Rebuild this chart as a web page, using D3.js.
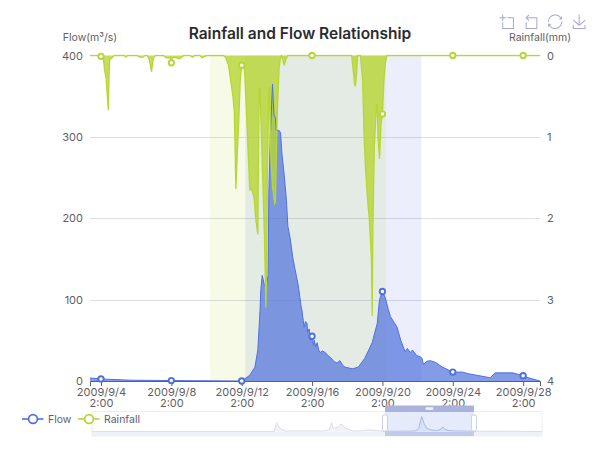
<!DOCTYPE html>
<html>
<head>
<meta charset="utf-8">
<script src="https://cdn.jsdelivr.net/npm/d3@7/dist/d3.min.js"></script>
<style>
html,body{margin:0;padding:0;background:#fff}
svg{display:block}
text{font-family:Inter,"Noto Sans",sans-serif}
</style>
</head>
<body>
<svg id="chart" width="600" height="450"></svg>
<script>
// Hours counted from 2009/9/3 11:00, the left edge of the zoomed window.
const flowHours = [0,15,55,111,207,218,225,229,232,233,235,238,240,243,244,246,249,250,251,253,254,255,258,260,262,265,268,270,273,277,284,288,289,291,292,294,296,297,299,301,303,305,306,308,310,312,314,317,321,325,328,333,337,341,345,348,358,366,375,385,392,395,399,403,407,410,415,419,424,430,433,437,440,446,450,453,455,459,464,471,481,495,503,508,516,546,553,577,591,598,614];
const flowValues = [3.7,2.5,1,0.5,0,7,17,38,87,111,130,118,115,130,230,300,365,345,327,323,308,308,308,305,278,253,222,190,176,150,118,92,88,74,66,73,71,60,64,50,55,44,50,42,47,38,35,37,35,31,29,24,22,25,19,17,15,17,28,47,71,100,110,102,88,79,72,66,50,36,40,35,38,31,30,28,20,24,25,23,17,11,11,11,9,4,10,10,6.5,4,0];

const rainHours = [0,11,15,18,20,22,25,26,27,29,31,33,47,49,51,64,68,72,75,78,81,84,86,88,90,100,104,108,110,111,112,115,118,122,125,128,136,140,143,150,153,156,160,182,185,189,195,197,199,201,203,205,207,209,211,214,218,221,224,226,229,230,231,232,234,236,238,240,241,242,243,244,245,246,247,249,252,253,254,255,256,258,260,261,263,265,267,270,303,357,359,361,362,364,365,367,369,372,374,376,379,381,384,385,386,388,391,392,393,395,397,399,401,403,405,495,591,614];
const rainValues = [0,0,0.01,0.02,0.18,0.28,0.67,0.24,0.03,0.04,0.02,0,0,0.02,0,0,0.02,0.02,0,0,0.05,0.2,0.05,0.01,0,0,0.03,0.03,0.03,0.09,0.03,0.02,0.03,0.04,0.02,0,0,0.02,0,0,0.03,0.01,0,0,0.02,0.12,0.5,0.7,1.64,1.2,0.8,0.3,0.12,0.1,0.2,0.8,1.65,1.65,1.75,2,2.2,1.1,0.4,0.4,1,1.6,2.2,3.1,2.6,1.4,0.9,0.4,0.38,1,1.3,1.6,1.82,1.8,1.35,0.9,0.6,0.15,0.02,0,0.05,0.12,0.05,0,0,0,0.17,0.35,0.38,0.2,0,0,0,0.3,1,1.4,1.8,2,2.5,3.2,2.1,1.1,0.6,0.6,1,1.27,0.85,0.72,0.3,0.1,0,0,0,0];

// Hours across the whole record, for the slider's overview line.
const overviewHours = [0,1255,1260,1272,1300,1330,1600,1633,1652,1661,1674,1695,1716,1743,1764,1798,1860,1915,1970,2005,2019,2220,2239,2253,2263,2272,2288,2308,2329,2377,2405,2416,2432,2453,2501,2632,2673,2811,3101];
const overviewFlow = [3,3,60,217,60,15,15,40,217,90,85,100,185,90,60,10,20,40,20,5,3,8,30,100,250,365,200,80,45,15,60,110,60,25,12,3,5,8,0];

const tickHours = [15,111,207,303,399,495,591];
const tickDates = ["2009/9/4","2009/9/8","2009/9/12","2009/9/16","2009/9/20","2009/9/24","2009/9/28"];
const tickTimes = ["2:00","2:00","2:00","2:00","2:00","2:00","2:00"];
const flowTicks = [0,100,200,300,400];
const rainTicks = [0,1,2,3,4];
const rainBand = [164,404];
const flowBand = [212,452];
const selectedHours = [2019,2632];

const flowColor = "#5070dd";
const rainColor = "#b6d634";
const labelColor = "#5f6066";

const svg = d3.select("#chart");
const plotLeft = 90, plotRight = 540, plotTop = 55.5, plotBottom = 381;
const x = d3.scaleLinear().domain([0,614]).range([plotLeft,plotRight]);
const yFlow = d3.scaleLinear().domain([0,400]).range([plotBottom,plotTop]);
const yRain = d3.scaleLinear().domain([0,4]).range([plotTop,plotBottom]);

svg.append("defs").append("clipPath").attr("id","plot")
  .append("rect").attr("x",plotLeft).attr("y",plotTop-1).attr("width",plotRight-plotLeft).attr("height",plotBottom-plotTop+1.5);

// Horizontal grid; the 400 line sits under the rainfall baseline
svg.append("g").selectAll("line").data(flowTicks.filter(t=>t>0&&t<400)).join("line")
  .attr("x1",plotLeft).attr("x2",plotRight)
  .attr("y1",d=>Math.round(yFlow(d))+0.5).attr("y2",d=>Math.round(yFlow(d))+0.5)
  .attr("stroke","#dbdee4");

// Highlighted periods for each series
svg.append("rect").attr("x",x(rainBand[0])).attr("y",plotTop).attr("width",x(rainBand[1])-x(rainBand[0])).attr("height",plotBottom-plotTop)
  .attr("fill",rainColor).attr("fill-opacity",0.12);
svg.append("rect").attr("x",x(flowBand[0])).attr("y",plotTop).attr("width",x(flowBand[1])-x(flowBand[0])).attr("height",plotBottom-plotTop)
  .attr("fill",flowColor).attr("fill-opacity",0.11);

// Left and right value axes
const leftAxis = svg.append("g").attr("transform",`translate(${plotLeft},0)`)
  .call(d3.axisLeft(yFlow).tickValues(flowTicks).tickSize(0).tickPadding(7));
const rightAxis = svg.append("g").attr("transform",`translate(${plotRight},0)`)
  .call(d3.axisRight(yRain).tickValues(rainTicks).tickFormat(d3.format("d")).tickSize(0).tickPadding(7));
[leftAxis,rightAxis].forEach(a=>{
  a.select(".domain").remove();
  a.selectAll("text").attr("fill",labelColor).attr("font-size",11).attr("font-family",'Inter,"Noto Sans",sans-serif');
});

// Time axis
const bottomAxis = svg.append("g").attr("transform",`translate(0,${plotBottom})`)
  .call(d3.axisBottom(x).tickValues(tickHours).tickSize(5).tickPadding(4).tickFormat(""));
bottomAxis.selectAll("path,line").attr("stroke",labelColor);
bottomAxis.selectAll(".tick text").each(function(d,i){
  const t = d3.select(this).attr("fill",labelColor).attr("font-size",11).attr("font-family",'Inter,"Noto Sans",sans-serif');
  t.append("tspan").attr("x",0).attr("dy","0.55em").text(tickDates[i]);
  t.append("tspan").attr("x",0).attr("dy","1.0em").text(tickTimes[i]);
});

// Flow and rainfall layers: rainfall fill rests over the flow fill, both outlines stay visible
const flowPts = flowHours.map((h,i)=>[h,flowValues[i]]);
const rainPts = rainHours.map((h,i)=>[h,rainValues[i]]);
const plotLayer = svg.append("g").attr("clip-path","url(#plot)");
function fillArea(pts,yScale,base,color,alpha){
  plotLayer.append("path").datum(pts)
    .attr("d",d3.area().x(d=>x(d[0])).y0(base).y1(d=>yScale(d[1])))
    .attr("fill",color).attr("fill-opacity",alpha);
}
function strokeLine(pts,yScale,color,width){
  plotLayer.append("path").datum(pts)
    .attr("d",d3.line().x(d=>x(d[0])).y(d=>yScale(d[1])))
    .attr("fill","none").attr("stroke",color).attr("stroke-width",width);
}
function dots(pts,yScale,color){
  svg.append("g").selectAll("circle").data(pts.filter(d=>tickHours.includes(d[0]))).join("circle")
    .attr("cx",d=>x(d[0])).attr("cy",d=>yScale(d[1])).attr("r",2.7)
    .attr("fill","#fff").attr("stroke",color).attr("stroke-width",1.9);
}
fillArea(flowPts,yFlow,plotBottom,flowColor,0.7);
fillArea(rainPts,yRain,plotTop,rainColor,0.8);
strokeLine(flowPts,yFlow,flowColor,1);
strokeLine(rainPts,yRain,rainColor,1.3);
dots(flowPts,yFlow,flowColor);
dots(rainPts,yRain,rainColor);

// Title and axis names
svg.append("text").attr("x",300).attr("y",38.5).attr("text-anchor","middle")
  .attr("font-size",15.5).attr("font-weight",600).attr("fill","#2b2c30").text("Rainfall and Flow Relationship");
svg.append("text").attr("x",plotLeft).attr("y",41).attr("text-anchor","middle")
  .attr("font-size",10.5).attr("fill",labelColor).text("Flow(m³/s)");
svg.append("text").attr("x",plotRight).attr("y",41).attr("text-anchor","middle")
  .attr("font-size",10.5).attr("fill",labelColor).text("Rainfall(mm)");

// Toolbox glyphs
const toolIcons = [
  "M0,13.5h26.9 M13.5,26.9V0 M32.1,13.5H58V58H13.5 V32.1",
  "M22,1.4L9.9,13.5l12.3,12.3 M10.3,13.5H54.9v44.6 H10.3v-26",
  "M3.8,33.4 M47,18.9h9.8V8.7 M56.3,20.1 C52.1,9,40.5,0.6,26.8,2.1C12.6,3.7,1.6,16.2,2.1,30.6 M13,41.1H3.1v10.2 M3.7,39.9c4.2,11.1,15.8,19.5,29.5,18 c14.2-1.6,25.2-14.1,24.7-28.5",
  "M4.7,22.9L29.3,45.5L54.7,23.4M4.6,43.6L4.6,58L53.8,58L53.8,43.6M29.2,45.1L29.2,0"
];
const toolGroup = svg.append("g");
toolIcons.forEach((d,i)=>{
  toolGroup.append("path").attr("d",d)
    .attr("transform",`translate(${499.5+i*24.2},14.5) scale(0.24)`)
    .attr("fill","none").attr("stroke","#a5a8d3").attr("stroke-width",4.2);
});

// Range slider with overview of the whole record
const sliderLeft = 92, sliderRight = 542, sliderTop = 411.5, sliderBase = 431.5, sliderBottom = 436;
const ox = d3.scaleLinear().domain([0,3101]).range([sliderLeft,sliderRight]);
const oy = d3.scaleLinear().domain([0,365]).range([sliderBase,416.7]);
const slider = svg.append("g");
slider.append("rect").attr("x",sliderLeft).attr("y",sliderTop).attr("width",sliderRight-sliderLeft).attr("height",sliderBottom-sliderTop)
  .attr("fill","#fff").attr("stroke","#eceef3");
slider.append("rect").attr("x",sliderLeft).attr("y",sliderBase).attr("width",sliderRight-sliderLeft).attr("height",sliderBottom-sliderBase)
  .attr("fill","#f0f1f6");
const selX0 = ox(selectedHours[0]), selX1 = ox(selectedHours[1]);
slider.append("rect").attr("x",selX0).attr("y",sliderTop).attr("width",selX1-selX0).attr("height",sliderBase-sliderTop).attr("fill","#e5ebfb");
slider.append("rect").attr("x",selX0).attr("y",sliderBase).attr("width",selX1-selX0).attr("height",sliderBottom-sliderBase).attr("fill","#c0cbec");
const overviewPts = overviewHours.map((h,i)=>[h,overviewFlow[i]]);
svg.select("defs").append("clipPath").attr("id","selected").append("rect").attr("x",selX0).attr("y",sliderTop).attr("width",selX1-selX0).attr("height",sliderBase-sliderTop);
slider.append("path").datum(overviewPts).attr("d",d3.area().x(d=>ox(d[0])).y0(sliderBase).y1(d=>oy(d[1])))
  .attr("fill","#f1f3f7");
slider.append("path").datum(overviewPts).attr("d",d3.line().x(d=>ox(d[0])).y(d=>oy(d[1])))
  .attr("fill","none").attr("stroke","#d3d7e0").attr("stroke-width",0.8);
const chosen = slider.append("g").attr("clip-path","url(#selected)");
chosen.append("path").datum(overviewPts).attr("d",d3.area().x(d=>ox(d[0])).y0(sliderBase).y1(d=>oy(d[1])))
  .attr("fill","#d6e0f6");
chosen.append("path").datum(overviewPts).attr("d",d3.line().x(d=>ox(d[0])).y(d=>oy(d[1])))
  .attr("fill","none").attr("stroke","#a3b3dd").attr("stroke-width",0.8);
slider.append("rect").attr("x",selX0).attr("y",405.5).attr("width",selX1-selX0).attr("height",6.5).attr("fill","#a9b3de").attr("rx",1);
slider.append("rect").attr("x",(selX0+selX1)/2-4).attr("y",407.3).attr("width",8).attr("height",2.8).attr("rx",1.4).attr("fill","#eef1fb");
[selX0,selX1].forEach(px=>{
  slider.append("rect").attr("x",px-2.5).attr("y",415).attr("width",5).attr("height",16).attr("rx",1.5)
    .attr("fill","#fff").attr("stroke","#c9d0e6");
});

// Legend, above the slider's white track
function legendItem(x0,label,color){
  const g = svg.append("g");
  g.append("line").attr("x1",x0).attr("x2",x0+21.5).attr("y1",419).attr("y2",419).attr("stroke",color).attr("stroke-width",1.6);
  g.append("circle").attr("cx",x0+11).attr("cy",419).attr("r",4.4).attr("fill","#fff").attr("stroke",color).attr("stroke-width",1.7);
  g.append("text").attr("x",x0+26).attr("y",423).attr("font-size",10.5).attr("fill",labelColor).text(label);
}
legendItem(22,"Flow",flowColor);
legendItem(78,"Rainfall",rainColor);
</script>
</body>
</html>
